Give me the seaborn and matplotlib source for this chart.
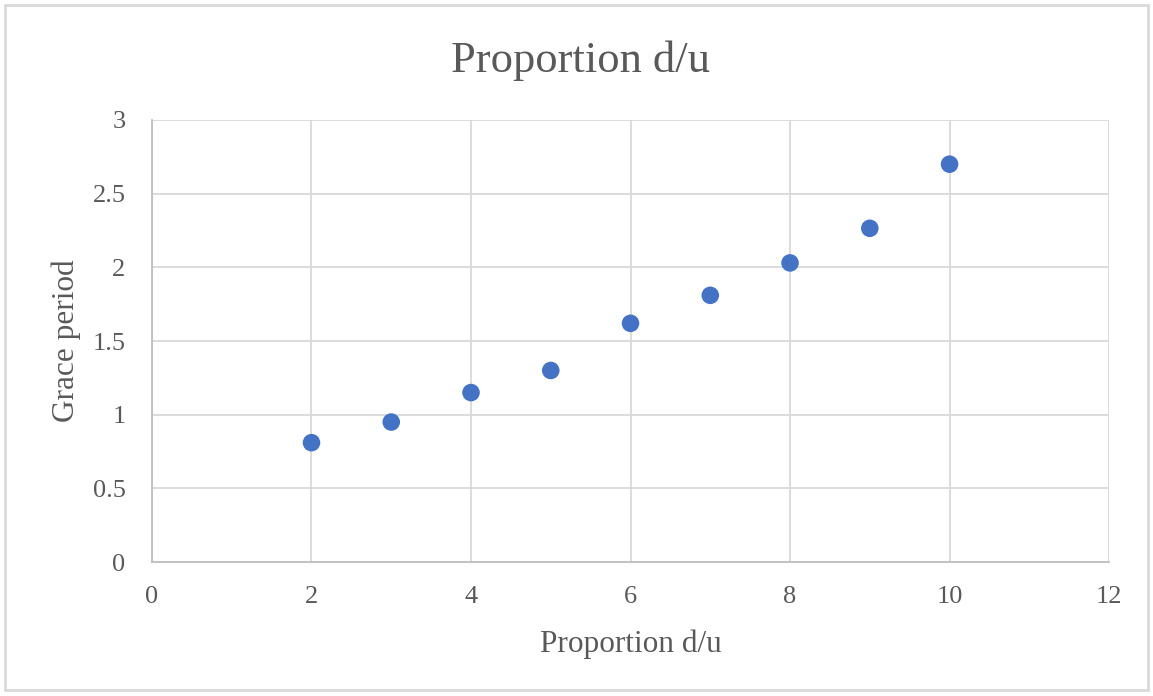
import seaborn as sns
import pandas as pd
import matplotlib.pyplot as plt
from matplotlib.patches import Rectangle

# values
proportion = [2, 3, 4, 5, 6, 7, 8, 9, 10]
grace_period = [0.81, 0.95, 1.15, 1.30, 1.62, 1.81, 2.03, 2.265, 2.70]
x_ticks = [0, 2, 4, 6, 8, 10, 12]
y_ticks = [0, 0.5, 1, 1.5, 2, 2.5, 3]
y_labels = ["0", "0.5", "1", "1.5", "2", "2.5", "3"]

df = pd.DataFrame({"Proportion d/u": proportion, "Grace period": grace_period})

sns.set_style("white")
plt.rcParams['font.family'] = ['Liberation Serif', 'DejaVu Serif']
text_col = "#595959"

fig = plt.figure(figsize=(11.53, 6.96), dpi=100)
ax = fig.add_axes([0.1318, 0.1925, 0.8301, 0.6351])

sns.scatterplot(data=df, x="Proportion d/u", y="Grace period", ax=ax,
                color="#4472C4", s=160, edgecolor="none", zorder=3)

ax.set_xlim(0, 12)
ax.set_ylim(0, 3)
ax.set_xticks(x_ticks)
ax.set_yticks(y_ticks)
ax.set_yticklabels(y_labels)
ax.grid(True, color="#D9D9D9", linewidth=1.3)
ax.set_axisbelow(True)
for side in ["top", "right"]:
    ax.spines[side].set_visible(False)
for side in ["left", "bottom"]:
    ax.spines[side].set_color("#BFBFBF")
    ax.spines[side].set_linewidth(1.3)
ax.tick_params(length=0, labelsize=19, labelcolor=text_col)
ax.tick_params(axis="x", pad=17.5)
ax.tick_params(axis="y", pad=19)

ax.set_xlabel("Proportion d/u", fontsize=22.5, color=text_col, labelpad=15)
ax.set_ylabel("Grace period", fontsize=22.5, color=text_col, labelpad=8)
ax.set_title("Proportion d/u", fontsize=32, color=text_col, x=0.448, y=1.108, pad=0)

fig.patches.append(Rectangle((5 / 1153, 6 / 696), 1143 / 1153, 685 / 696,
                             transform=fig.transFigure, fill=False,
                             edgecolor="#D9D9D9", linewidth=2))

fig.savefig("out.png", dpi=100)
